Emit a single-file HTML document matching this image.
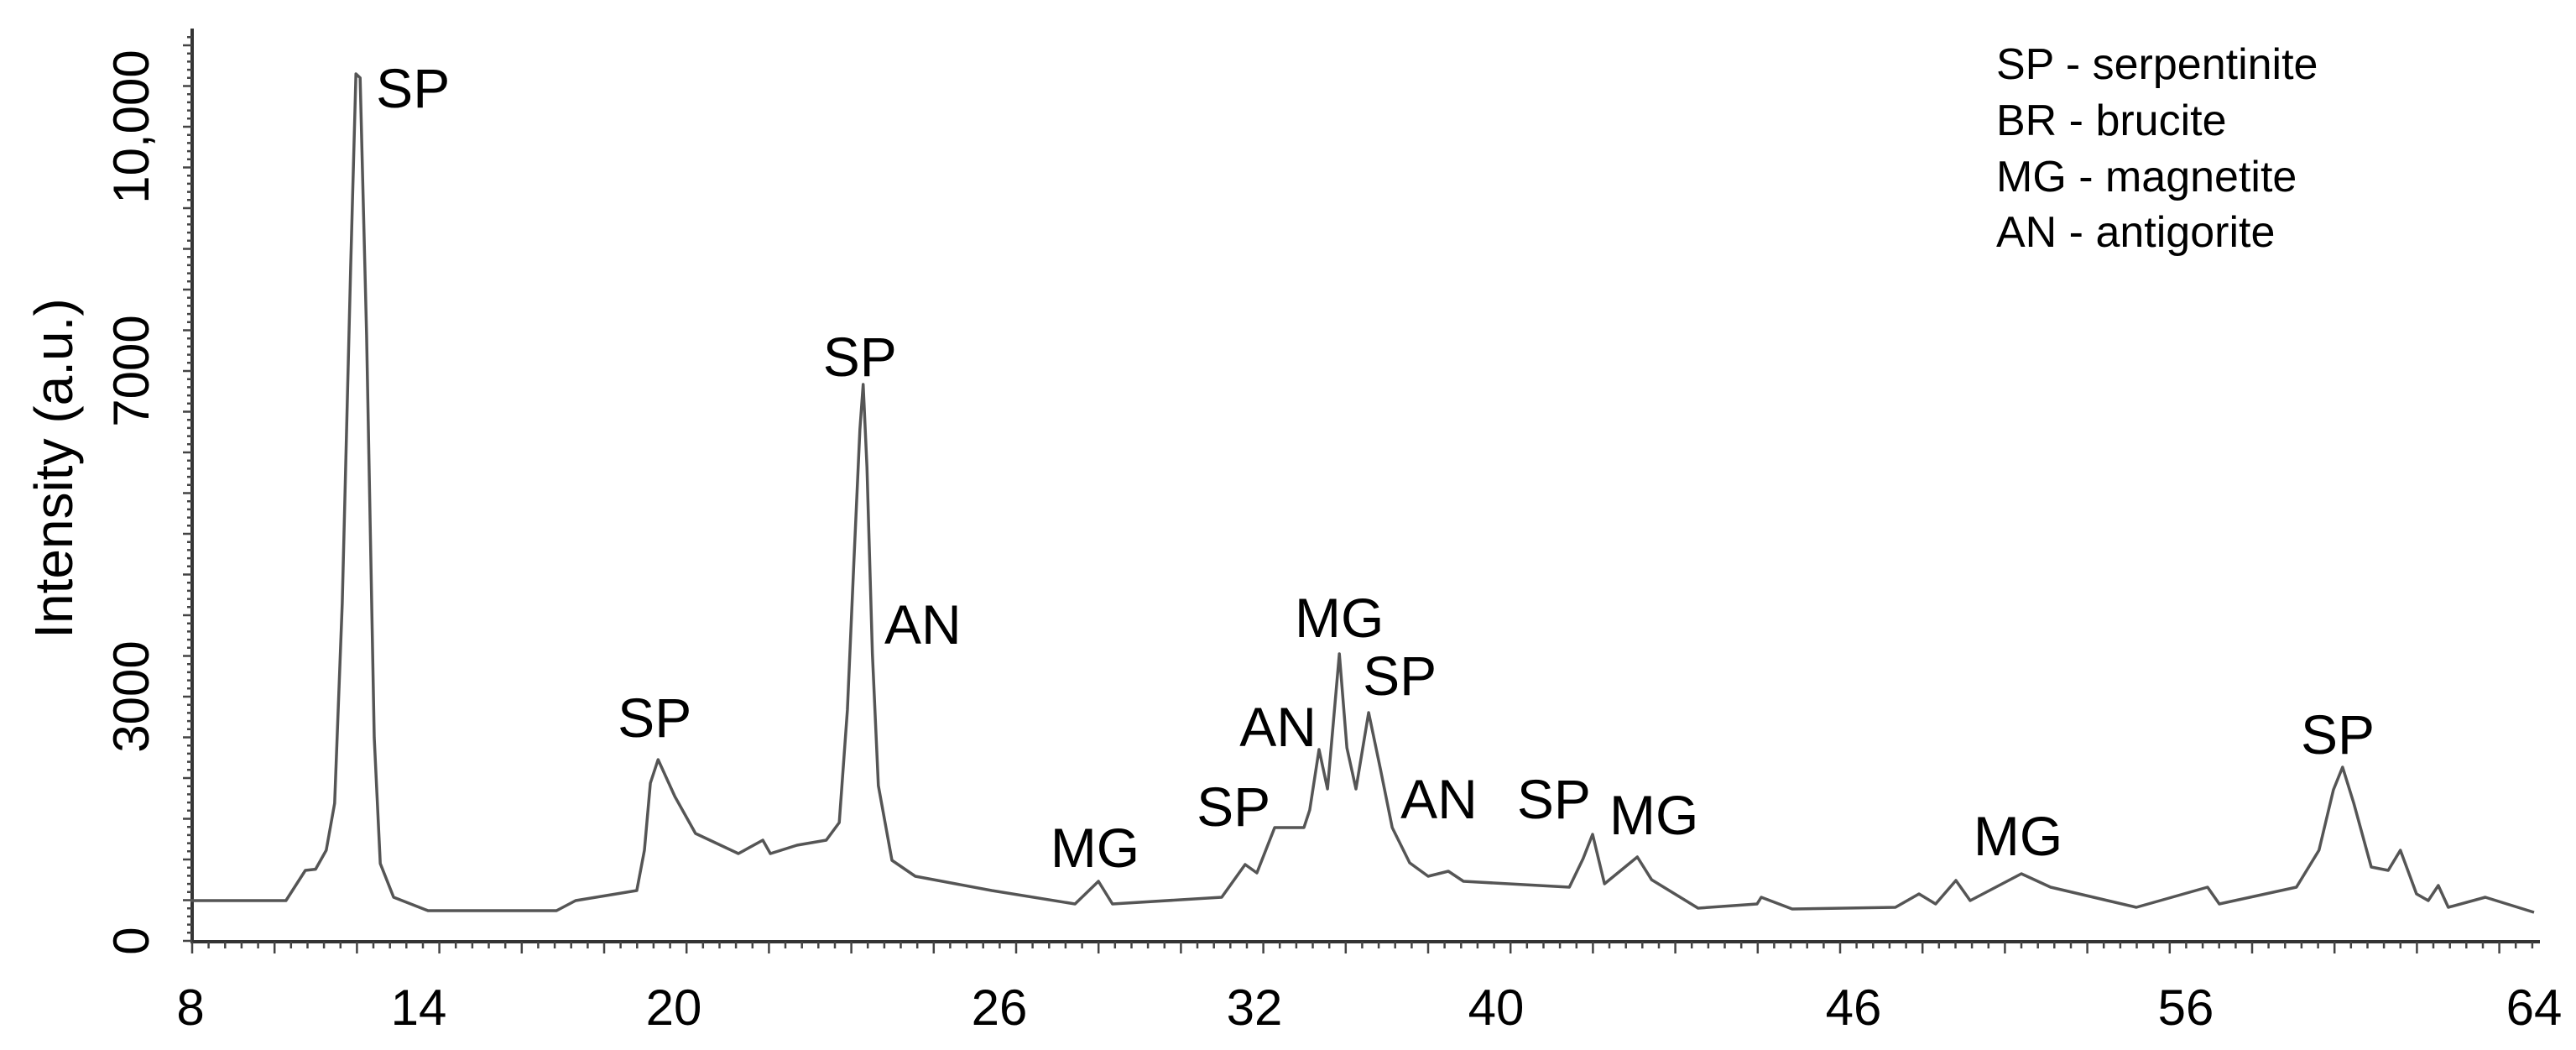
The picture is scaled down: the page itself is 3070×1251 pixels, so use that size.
<!DOCTYPE html>
<html>
<head>
<meta charset="utf-8">
<style>
  html,body{margin:0;padding:0;background:#fff;}
  svg{display:block;}
  text{font-family:"Liberation Sans",Arial,sans-serif;fill:#000;}
</style>
</head>
<body>
<svg id="chart" width="3070" height="1251" viewBox="0 0 3070 1251" xmlns="http://www.w3.org/2000/svg">
  <g id="axes"></g>
  <g id="series"></g>
  <g id="labels"></g>
  <g id="legend">
    <text x="2379" y="94" font-size="52">SP - serpentinite</text>
    <text x="2379" y="161" font-size="52">BR - brucite</text>
    <text x="2379" y="228" font-size="52">MG - magnetite</text>
    <text x="2379" y="294" font-size="52">AN - antigorite</text>
  </g>
  <text x="0" y="0" font-size="64" text-anchor="middle" transform="translate(86,558) rotate(-90)">Intensity (a.u.)</text>
</svg>
<script>
// ---- data ----
const xTickValues = [8, 14, 20, 26, 32, 40, 46, 56, 64];
const xTickLabels = ["8", "14", "20", "26", "32", "40", "46", "56", "64"];
const yTickValues = [0, 3000, 7000, 10000];
const yTickLabels = ["0", "3000", "7000", "10,000"];
const twoTheta = [8.0,10.51,11.02,11.29,11.57,11.79,11.99,12.21,12.35,12.46,12.63,12.83,12.99,13.34,14.22,17.24,17.69,19.13,19.31,19.45,19.63,20.02,20.40,21.19,21.64,21.78,22.27,22.81,23.05,23.20,23.32,23.43,23.49,23.56,23.66,23.77,24.02,24.45,25.86,27.78,28.33,28.66,31.23,31.78,32.08,32.67,33.64,33.83,34.14,34.42,34.81,35.06,35.36,35.78,36.17,36.56,37.14,37.75,38.42,38.92,41.23,41.46,41.62,41.82,42.37,42.61,43.39,44.38,44.45,44.97,47.26,47.97,48.47,49.08,49.51,51.05,51.93,53.65,54.51,56.50,56.77,58.54,59.06,59.39,59.60,59.86,60.26,60.65,60.93,61.30,61.57,61.80,62.03,62.88,64.0];
const intensity = [495,495,866,880,1113,1690,4150,8270,10650,10600,7440,2500,950,536,371,371,495,619,1113,1938,2227,1773,1320,1072,1237,1072,1175,1237,1454,2835,4670,6280,6835,5825,3526,1907,990,794,619,454,732,454,536,938,835,1392,1392,1608,2350,1866,3526,2371,1866,2804,2113,1392,959,794,856,732,660,1010,1309,701,1031,752,402,454,536,392,412,577,454,742,495,825,660,495,412,660,454,660,1113,1856,2134,1690,907,866,1113,577,495,680,412,536,350];
const peakNames = ["SP","SP","SP","AN","MG","SP","AN","MG","SP","AN","SP","MG","MG","SP"];
const peakX = [13.85,19.55,23.43,24.59,28.25,31.51,32.78,34.81,36.81,38.11,40.97,42.65,50.95,59.49];
const peakY = [10237,2505,6938,3650,907,1412,2392,3732,3021,1505,1505,1309,1052,2299];

// ---- scales ----
const XCAL_V = [8,14,20,26,32,40,46,56,64];
const XCAL_P = [227,499,803,1191,1495,1783,2209,2605,3020];
function xScale(v){
  for(let i=0;i<XCAL_V.length-1;i++){
    if(v<=XCAL_V[i+1]||i===XCAL_V.length-2){
      const t=(v-XCAL_V[i])/(XCAL_V[i+1]-XCAL_V[i]);
      return XCAL_P[i]+t*(XCAL_P[i+1]-XCAL_P[i]);
    }
  }
}
function yScale(v){ return 1121 - v*0.0970; }

const NS="http://www.w3.org/2000/svg";
function mk(tag, attrs){ const e=document.createElementNS(NS,tag); for(const k in attrs) e.setAttribute(k,attrs[k]); return e; }

const axes=document.getElementById('axes');
const xAxis=mk('line',{x1:229,y1:1122,x2:3027,y2:1122,stroke:'#333','stroke-width':4});


axes.appendChild(xAxis);
const yAxis=mk('line',{x1:229,y1:34,x2:229,y2:1124,stroke:'#333','stroke-width':4});


axes.appendChild(yAxis);

let tp='';
for(let i=0;i*19.64+229<=3028;i++){
  const x=229+i*19.64; const len=(i%5===0)?14:8;
  tp+=`M${x.toFixed(1)} 1122V${1122+len}`;
}
const xt=mk('path',{d:tp,stroke:'#444','stroke-width':2.5,fill:'none'});


axes.appendChild(xt);
let yp='';
for(let v=0;v<=11100;v+=100){
  const y=yScale(v); const len=(v%500===0)?11:6;
  yp+=`M229 ${y.toFixed(1)}H${229-len}`;
}
const yt=mk('path',{d:yp,stroke:'#444','stroke-width':2.5,fill:'none'});


axes.appendChild(yt);

xTickValues.forEach((v,i)=>{
  const t=mk('text',{x:xScale(v),y:1221,'font-size':60,'text-anchor':'middle'});
  t.textContent=xTickLabels[i];
  
  
  axes.appendChild(t);
});
yTickValues.forEach((v,i)=>{
  const y=yScale(v);
  const t=mk('text',{x:0,y:0,'font-size':60,'text-anchor':'middle',transform:`translate(177,${y.toFixed(1)}) rotate(-90)`});
  t.textContent=yTickLabels[i];
  
  
  axes.appendChild(t);
});

let d='';
twoTheta.forEach((v,i)=>{ d+=(i?'L':'M')+xScale(v).toFixed(1)+' '+yScale(intensity[i]).toFixed(1); });
const line=mk('path',{d:d,stroke:'#555','stroke-width':3.5,fill:'none','stroke-linejoin':'round'});


document.getElementById('series').appendChild(line);

const lab=document.getElementById('labels');
peakNames.forEach((n,i)=>{
  const t=mk('text',{x:xScale(peakX[i]),y:yScale(peakY[i]),'font-size':66,'text-anchor':'middle'});
  t.textContent=n;
  
  
  lab.appendChild(t);
});
</script>
</body>
</html>
